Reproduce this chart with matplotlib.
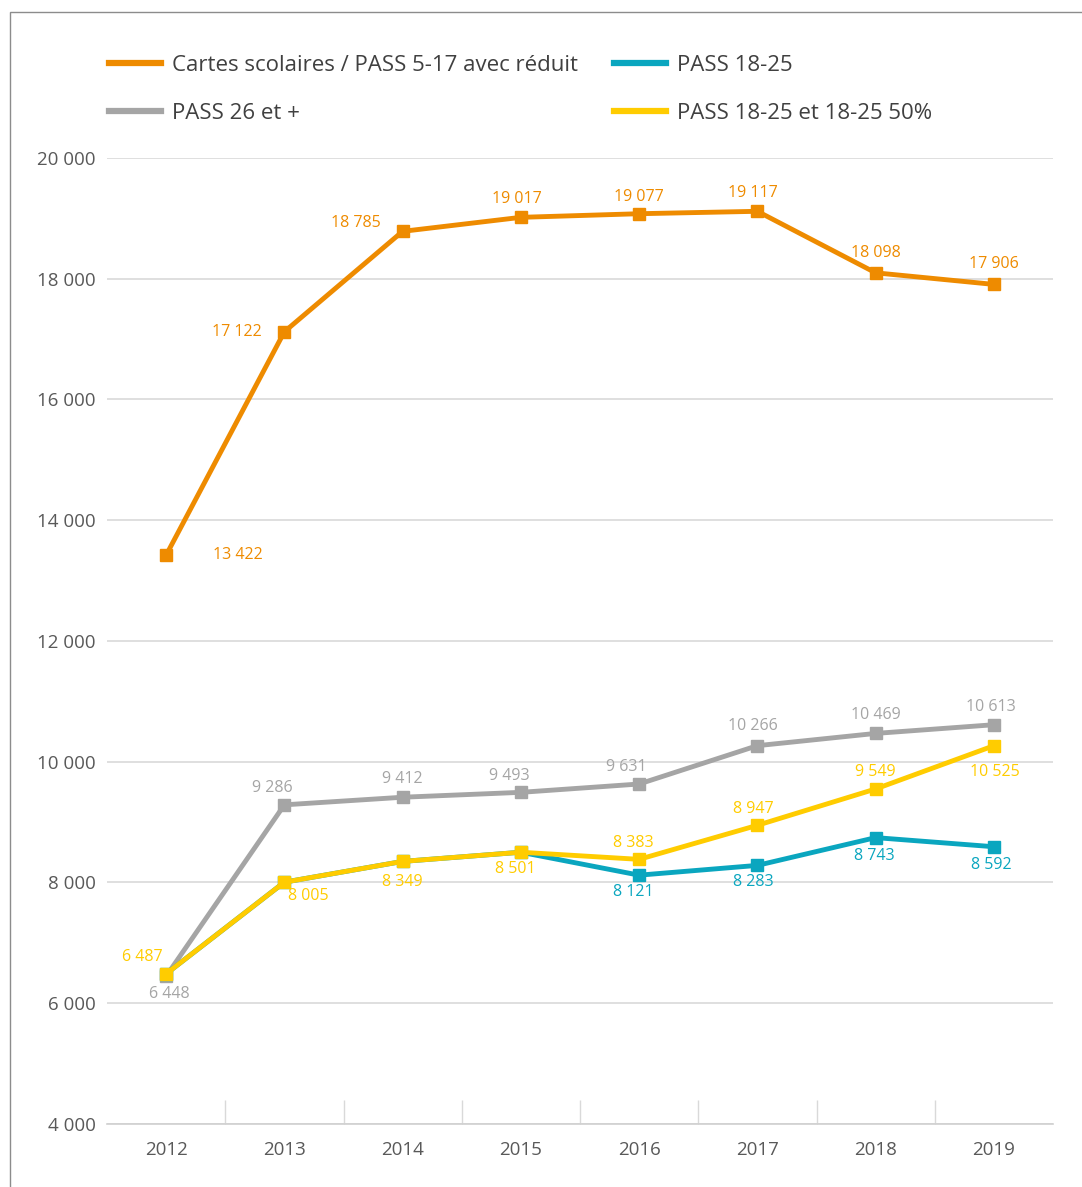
import matplotlib.pyplot as plt
from matplotlib.patches import Rectangle
from matplotlib.ticker import FuncFormatter, MultipleLocator

plt.rcParams['font.family'] = ['Open Sans', 'DejaVu Sans']

years = ['2012', '2013', '2014', '2015', '2016', '2017', '2018', '2019']

cartes = [13422, 17122, 18785, 19017, 19077, 19117, 18098, 17906]
pass_26 = [6448, 9286, 9412, 9493, 9631, 10266, 10469, 10613]
pass_18_25 = [6487, 8005, 8349, 8501, 8121, 8283, 8743, 8592]
# the 2019 point is drawn near 10 265 while its label reads 10 525
pass_18_25_50 = [6487, 8005, 8349, 8501, 8383, 8947, 9549, 10265]
pass_18_25_50_text = [6487, 8005, 8349, 8501, 8383, 8947, 9549, 10525]

# which points of PASS 18-25 get a label (the first ones sit under the yellow line)
teal_labelled = [False, False, False, False, True, True, True, True]

ORANGE = '#EE8B00'
TEAL = '#0AA6BF'
GREY = '#A5A5A5'
YELLOW = '#FFCC00'

# label offsets in points (dx, dy)
off_cartes = [(52, 0), (-34, 0), (-34, 6), (-3, 13), (0, 12), (-3, 13), (0, 14), (0, 15)]
off_26 = [(2, -13), (-9, 12), (0, 13), (-8, 12), (-9, 12), (-3, 14), (0, 13), (-2, 13)]
off_50 = [(-17, 12), (17, -10), (0, -15), (-4, -12), (-4, 12), (-3, 12), (0, 12), (1, -19)]
off_teal = [(0, 0)] * 4 + [(-4, -12), (-3, -12), (-1, -13), (-2, -13)]

fig = plt.figure(figsize=(10.82, 11.87), dpi=100)
ax = fig.add_axes([0.0989, 0.0531, 0.8743, 0.8138])

x = list(range(len(years)))


def fmt(v):
    return '{:,}'.format(int(v)).replace(',', ' ')


def draw(values, color, label, offsets, texts=None, show=None, z=3):
    texts = texts or values
    ax.plot(x, values, color=color, lw=3.5, marker='s', markersize=8.5,
            label=label, zorder=z)
    for i, v in enumerate(values):
        if show is not None and not show[i]:
            continue
        dx, dy = offsets[i]
        ax.annotate(fmt(texts[i]), (i, v), xytext=(dx, dy), textcoords='offset points',
                    ha='center', va='center', color=color, fontsize=11.5, zorder=6)


draw(cartes, ORANGE, 'Cartes scolaires / PASS 5-17 avec réduit', off_cartes, z=4)
draw(pass_18_25, TEAL, 'PASS 18-25', off_teal, show=teal_labelled, z=3)
draw(pass_26, GREY, 'PASS 26 et +', off_26, z=2)
draw(pass_18_25_50, YELLOW, 'PASS 18-25 et 18-25 50%', off_50, texts=pass_18_25_50_text, z=5)

ax.set_xlim(-0.5, len(years) - 0.5)
ax.set_ylim(4000, 20000)
ax.yaxis.set_major_locator(MultipleLocator(2000))
ax.yaxis.set_major_formatter(FuncFormatter(lambda v, p: fmt(v)))
ax.set_xticks(x)
ax.set_xticklabels(years)
ax.set_xticks([i + 0.5 for i in x[:-1]], minor=True)
ax.grid(axis='y', color='#D9D9D9', lw=1.2)
ax.set_axisbelow(True)
for s in ['top', 'right', 'left']:
    ax.spines[s].set_visible(False)
ax.spines['bottom'].set_color('#D0D0D0')
ax.spines['bottom'].set_linewidth(1.2)
ax.tick_params(axis='y', length=0, pad=8, labelsize=13.5, labelcolor='#595959')
ax.tick_params(axis='x', which='major', length=0, pad=12, labelsize=13.5, labelcolor='#595959')
ax.tick_params(axis='x', which='minor', direction='in', length=17, width=1, color='#D9D9D9')

handles, labels = ax.get_legend_handles_labels()
order = [0, 2, 1, 3]
fig.legend([handles[i] for i in order], [labels[i] for i in order],
           loc='upper left', bbox_to_anchor=(0.0823, 0.9705), ncol=2, frameon=False,
           fontsize=16, labelcolor='#404040', handlelength=2.35, handletextpad=0.5,
           columnspacing=1.6, labelspacing=1.22)
for h in fig.legends[0].legend_handles:
    h.set_marker('')
    h.set_linewidth(4.5)

# outer frame of the chart area
fig.patches.append(Rectangle((10 / 1082, -0.1), 1.2, 1.1 - 12 / 1187,
                             transform=fig.transFigure, fill=False,
                             edgecolor='#8C8C8C', lw=1))

fig.savefig('out.png', dpi=100)
